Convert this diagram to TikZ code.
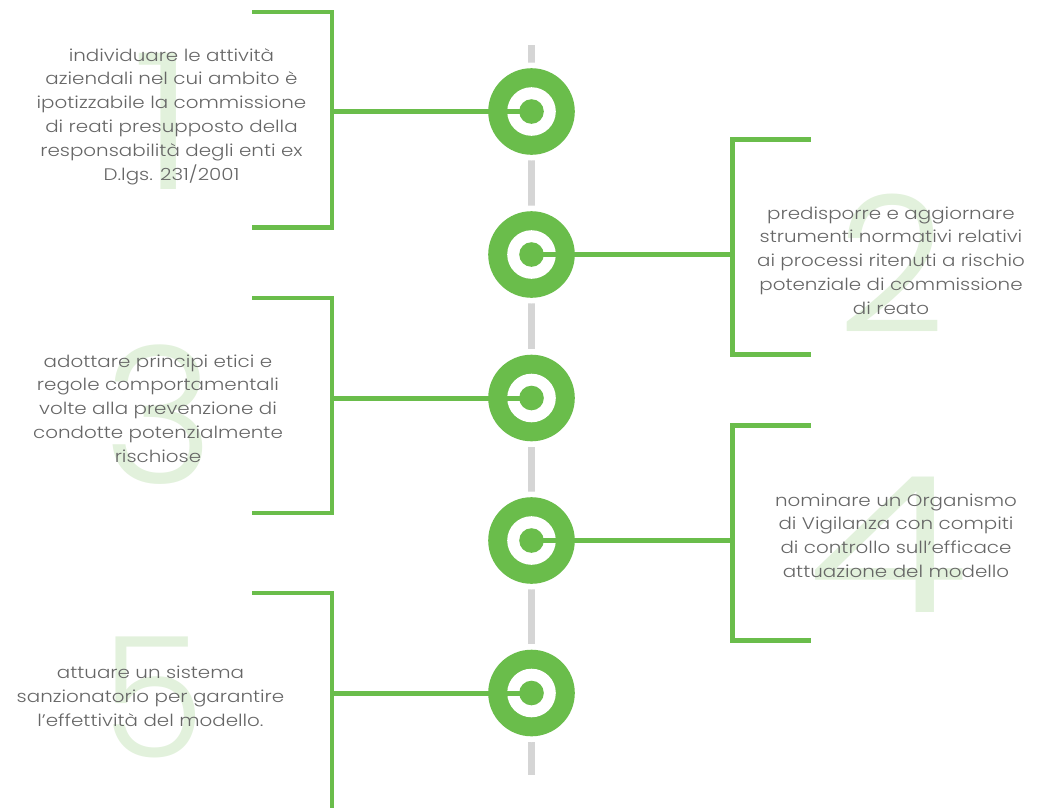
\documentclass[tikz,border=0pt]{standalone}
\usepackage{fontspec}
\setmainfont{Poppins}[UprightFont=* Light, FakeStretch=1.19]
\newfontfamily\numfont{Poppins}[UprightFont=* Light]
\definecolor{vgreen}{HTML}{6ABD4B}
\definecolor{lgreen}{HTML}{E2F1DC}
\definecolor{dgrey}{HTML}{D5D5D5}
\definecolor{tgrey}{HTML}{666666}
\tikzset{
  txt/.style={align=center, text=tgrey, inner sep=0pt, font=\fontsize{16.7}{23.8}\selectfont},
  bignum/.style={text=lgreen, inner sep=0pt, font=\numfont\fontsize{190}{190}\selectfont},
  brk/.style={draw=vgreen, line width=4.5pt},
  conn/.style={draw=vgreen, line width=5pt},
  ring/.style={circle, fill=vgreen, minimum size=86.6pt, inner sep=0pt},
}
\begin{document}
\begin{tikzpicture}[x=1pt,y=-1pt]
\useasboundingbox (0,0) rectangle (1047,807);
% big background numbers
\node[bignum] (n1) at (164,121) {\scalebox{1.15}[1]{1}};
\node[bignum] (n2) at (892,263) {2};
\node[bignum] (n3) at (159,415) {3};
\node[bignum] (n4) at (888,545) {\scalebox{1.4}[1]{4}};
\node[bignum, font=\numfont\fontsize{168}{168}\selectfont] (n5) at (153,697) {5};
% texts
\node[txt] (t1) at (171.5,116.5) {individuare le attività\\aziendali nel cui ambito è\\ipotizzabile la commissione\\di reati presupposto della\\responsabilità degli enti ex\\D.lgs. 231/2001};
\node[txt] (t2) at (891,260.5) {predisporre e aggiornare\\strumenti normativi relativi\\ai processi ritenuti a rischio\\potenziale di commissione\\di reato};
\node[txt] (t3) at (158,408.5) {adottare principi etici e\\regole comportamentali\\volte alla prevenzione di\\condotte potenzialmente\\rischiose};
\node[txt] (t4) at (896,535.5) {nominare un Organismo\\di Vigilanza con compiti\\di controllo sull’efficace\\attuazione del modello};
\node[txt] (t5) at (150.5,696) {attuare un sistema\\sanzionatorio per garantire\\l’effettività del modello.};
% brackets
\draw[brk] (252,12) -- (332,12) -- (332,227.5) -- (252,227.5);
\draw[brk] (810.7,139.5) -- (732.5,139.5) -- (732.5,354.5) -- (810.7,354.5);
\draw[brk] (252,298) -- (332,298) -- (332,513) -- (252,513);
\draw[brk] (810.7,425.5) -- (732.5,425.5) -- (732.5,640.5) -- (810.7,640.5);
\draw[brk] (252,593) -- (332,593) -- (332,810);
\coordinate (b1) at (332,111.5);
\coordinate (b2) at (732.5,254.5);
\coordinate (b3) at (332,398);
\coordinate (b4) at (732.5,540.5);
\coordinate (b5) at (332,693);
% grey axis
\coordinate (axtop) at (531.5,45);
\coordinate (axbot) at (531.5,775);
\draw[dgrey, line width=7pt] (axtop) -- (axbot);
% circles
\foreach \i/\y in {1/111.5,2/254.5,3/398,4/540.5,5/693}{
  \fill[white] (531.5,\y) circle (49);
  \node[ring] (c\i) at (531.5,\y) {};
}
\draw[conn] (b1) -- (c1.center);
\draw[conn] (b2) -- (c2.center);
\draw[conn] (b3) -- (c3.center);
\draw[conn] (b4) -- (c4.center);
\draw[conn] (b5) -- (c5.center);
\foreach \i in {1,...,5}{
  \fill[white] (c\i.center) circle (24.3);
  \fill[vgreen] (c\i.center) circle (12.3);
}
\draw[conn] (b1) -- (c1.center);
\draw[conn] (b2) -- (c2.center);
\draw[conn] (b3) -- (c3.center);
\draw[conn] (b4) -- (c4.center);
\draw[conn] (b5) -- (c5.center);
\end{tikzpicture}
\end{document}
